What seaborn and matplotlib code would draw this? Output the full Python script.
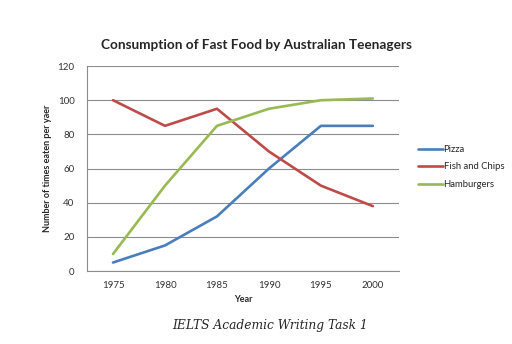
import numpy as np
import pandas as pd
import seaborn as sns
import matplotlib.pyplot as plt
from matplotlib.lines import Line2D

years = ["1975", "1980", "1985", "1990", "1995", "2000"]
pizza = [5, 15, 32, 60, 85, 85]
fish_chips = [100, 85, 95, 70, 50, 38]
hamburgers = [10, 50, 85, 95, 100, 101]
series_names = ["Pizza", "Fish and Chips", "Hamburgers"]

df = pd.DataFrame({"Year": years * 3,
                   "value": pizza + fish_chips + hamburgers,
                   "food": np.repeat(series_names, len(years))})

sns.set_style("white")
plt.rcParams['font.family'] = ['Lato', 'DejaVu Sans']

fig = plt.figure(figsize=(5.12, 3.44), dpi=100)
ax = fig.add_axes([0.170, 0.212, 0.609, 0.596])

palette = {"Pizza": "#4A7EBB", "Fish and Chips": "#BE4B48", "Hamburgers": "#98B954"}
sns.lineplot(data=df, x="Year", y="value", hue="food", palette=palette,
             linewidth=1.9, ax=ax, legend=False, sort=False)

ax.set_ylim(0, 120)
ax.set_xlim(-0.5, 5.5)
ax.set_yticks(np.arange(0, 121, 20))
ax.yaxis.grid(True, color="#8c8c8c", linewidth=0.8)
ax.set_axisbelow(True)
for s in ["top", "right"]:
    ax.spines[s].set_visible(False)
for s in ["left", "bottom"]:
    ax.spines[s].set_color("#8c8c8c")
    ax.spines[s].set_linewidth(0.8)

ax.set_xticks(np.arange(len(years)))
ax.set_xticklabels(years)
ax.set_xticks(np.arange(-0.5, 5.6, 1), minor=True)
ax.tick_params(axis="x", which="major", length=0, labelsize=7, pad=7, labelcolor="#333333")
ax.tick_params(axis="x", which="minor", length=4, color="#8c8c8c", width=0.8, direction="out")
ax.tick_params(axis="y", length=4, color="#8c8c8c", width=0.8, direction="out",
               labelsize=7, pad=5, labelcolor="#333333")

ax.set_xlabel("Year", fontsize=6.5, fontweight="bold", labelpad=4)
ax.set_ylabel("Number of times eaten per yaer", fontsize=6.5, fontweight="bold", labelpad=4)
fig.text(0.5, 0.868, "Consumption of Fast Food by Australian Teenagers",
         ha="center", va="center", fontsize=9.8, fontweight="bold")

# legend
handles = [Line2D([0], [0], color=palette[n], linewidth=1.9) for n in series_names]
fig.legend(handles, series_names, loc="center left", bbox_to_anchor=(0.8, 0.515),
           frameon=False, fontsize=6.8, handlelength=2.6, handletextpad=0.1,
           labelspacing=0.9)

fig.text(0.527, 0.055, "IELTS Academic Writing Task 1", ha="center", va="center",
         fontsize=8.8, style="italic", family=["DejaVu Serif"])

fig.savefig("out.png", dpi=100)
